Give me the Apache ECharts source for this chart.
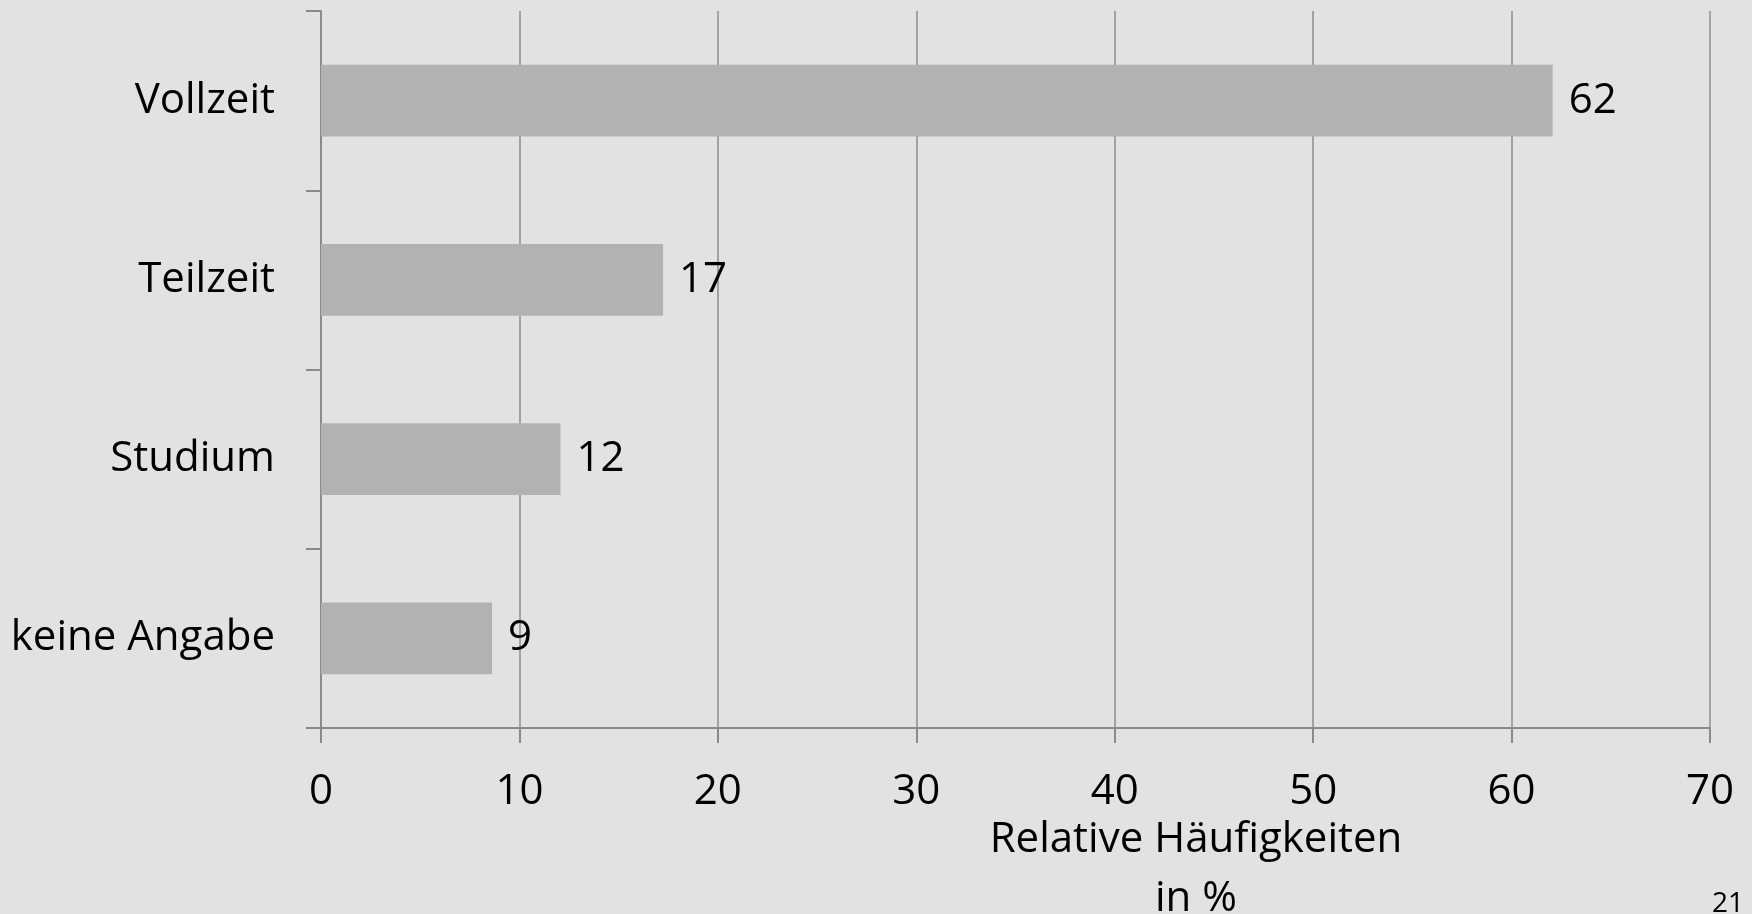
<!DOCTYPE html>
<html>
<head>
<meta charset="utf-8">
<script src="https://cdn.jsdelivr.net/npm/echarts@6/dist/echarts.min.js"></script>
<style>
html,body{margin:0;padding:0;background:#e2e2e2;}
#chart{width:1752px;height:914px;}
</style>
</head>
<body>
<div id="chart"></div>
<script>
const categories = ['Vollzeit', 'Teilzeit', 'Studium', 'keine Angabe'];
const values = [62.07, 17.24, 12.07, 8.62];
const xTicks = { min: 0, max: 70, interval: 10 };
const axisTitle = 'Relative Häufigkeiten\nin %';
const pageNumber = '21';

const FONT = '"Open Sans", "Noto Sans", sans-serif';
const chart = echarts.init(document.getElementById('chart'));
chart.setOption({
  backgroundColor: '#e2e2e2',
  animation: false,
  grid: { left: 321, right: 42, top: 11, bottom: 186 },
  xAxis: {
    type: 'value', min: xTicks.min, max: xTicks.max, interval: xTicks.interval,
    axisLine: { show: true, lineStyle: { color: '#8a8a8a', width: 2 } },
    axisTick: { show: true, length: 15, lineStyle: { color: '#8a8a8a', width: 2 } },
    splitLine: { show: true, lineStyle: { color: '#8c8c8c', width: 1.5 } },
    axisLabel: { color: '#000', fontSize: 42, fontFamily: FONT, margin: 43 }
  },
  yAxis: {
    type: 'category', data: categories, inverse: true,
    axisLine: { show: true, lineStyle: { color: '#8a8a8a', width: 2 } },
    axisTick: { show: true, length: 15, lineStyle: { color: '#8a8a8a', width: 2 } },
    axisLabel: { color: '#000', fontSize: 42, fontFamily: FONT, margin: 46, padding: [2, 0, 0, 0] }
  },
  series: [{
    type: 'bar', data: values, barCategoryGap: '60%',
    itemStyle: { color: '#b2b2b2' },
    label: {
      show: true, position: 'right', distance: 16, color: '#000',
      fontSize: 42, fontFamily: FONT,
      formatter: p => Math.round(p.value)
    }
  }],
  graphic: [
    { type: 'text', x: 1196, y: 870,
      style: { text: axisTitle, fill: '#000', font: '42px ' + FONT, align: 'center', verticalAlign: 'middle', lineHeight: 59 } },
    { type: 'text', x: 1728, y: 904,
      style: { text: pageNumber, fill: '#000', font: '28px ' + FONT, align: 'center', verticalAlign: 'middle' } }
  ]
});
</script>
</body>
</html>
